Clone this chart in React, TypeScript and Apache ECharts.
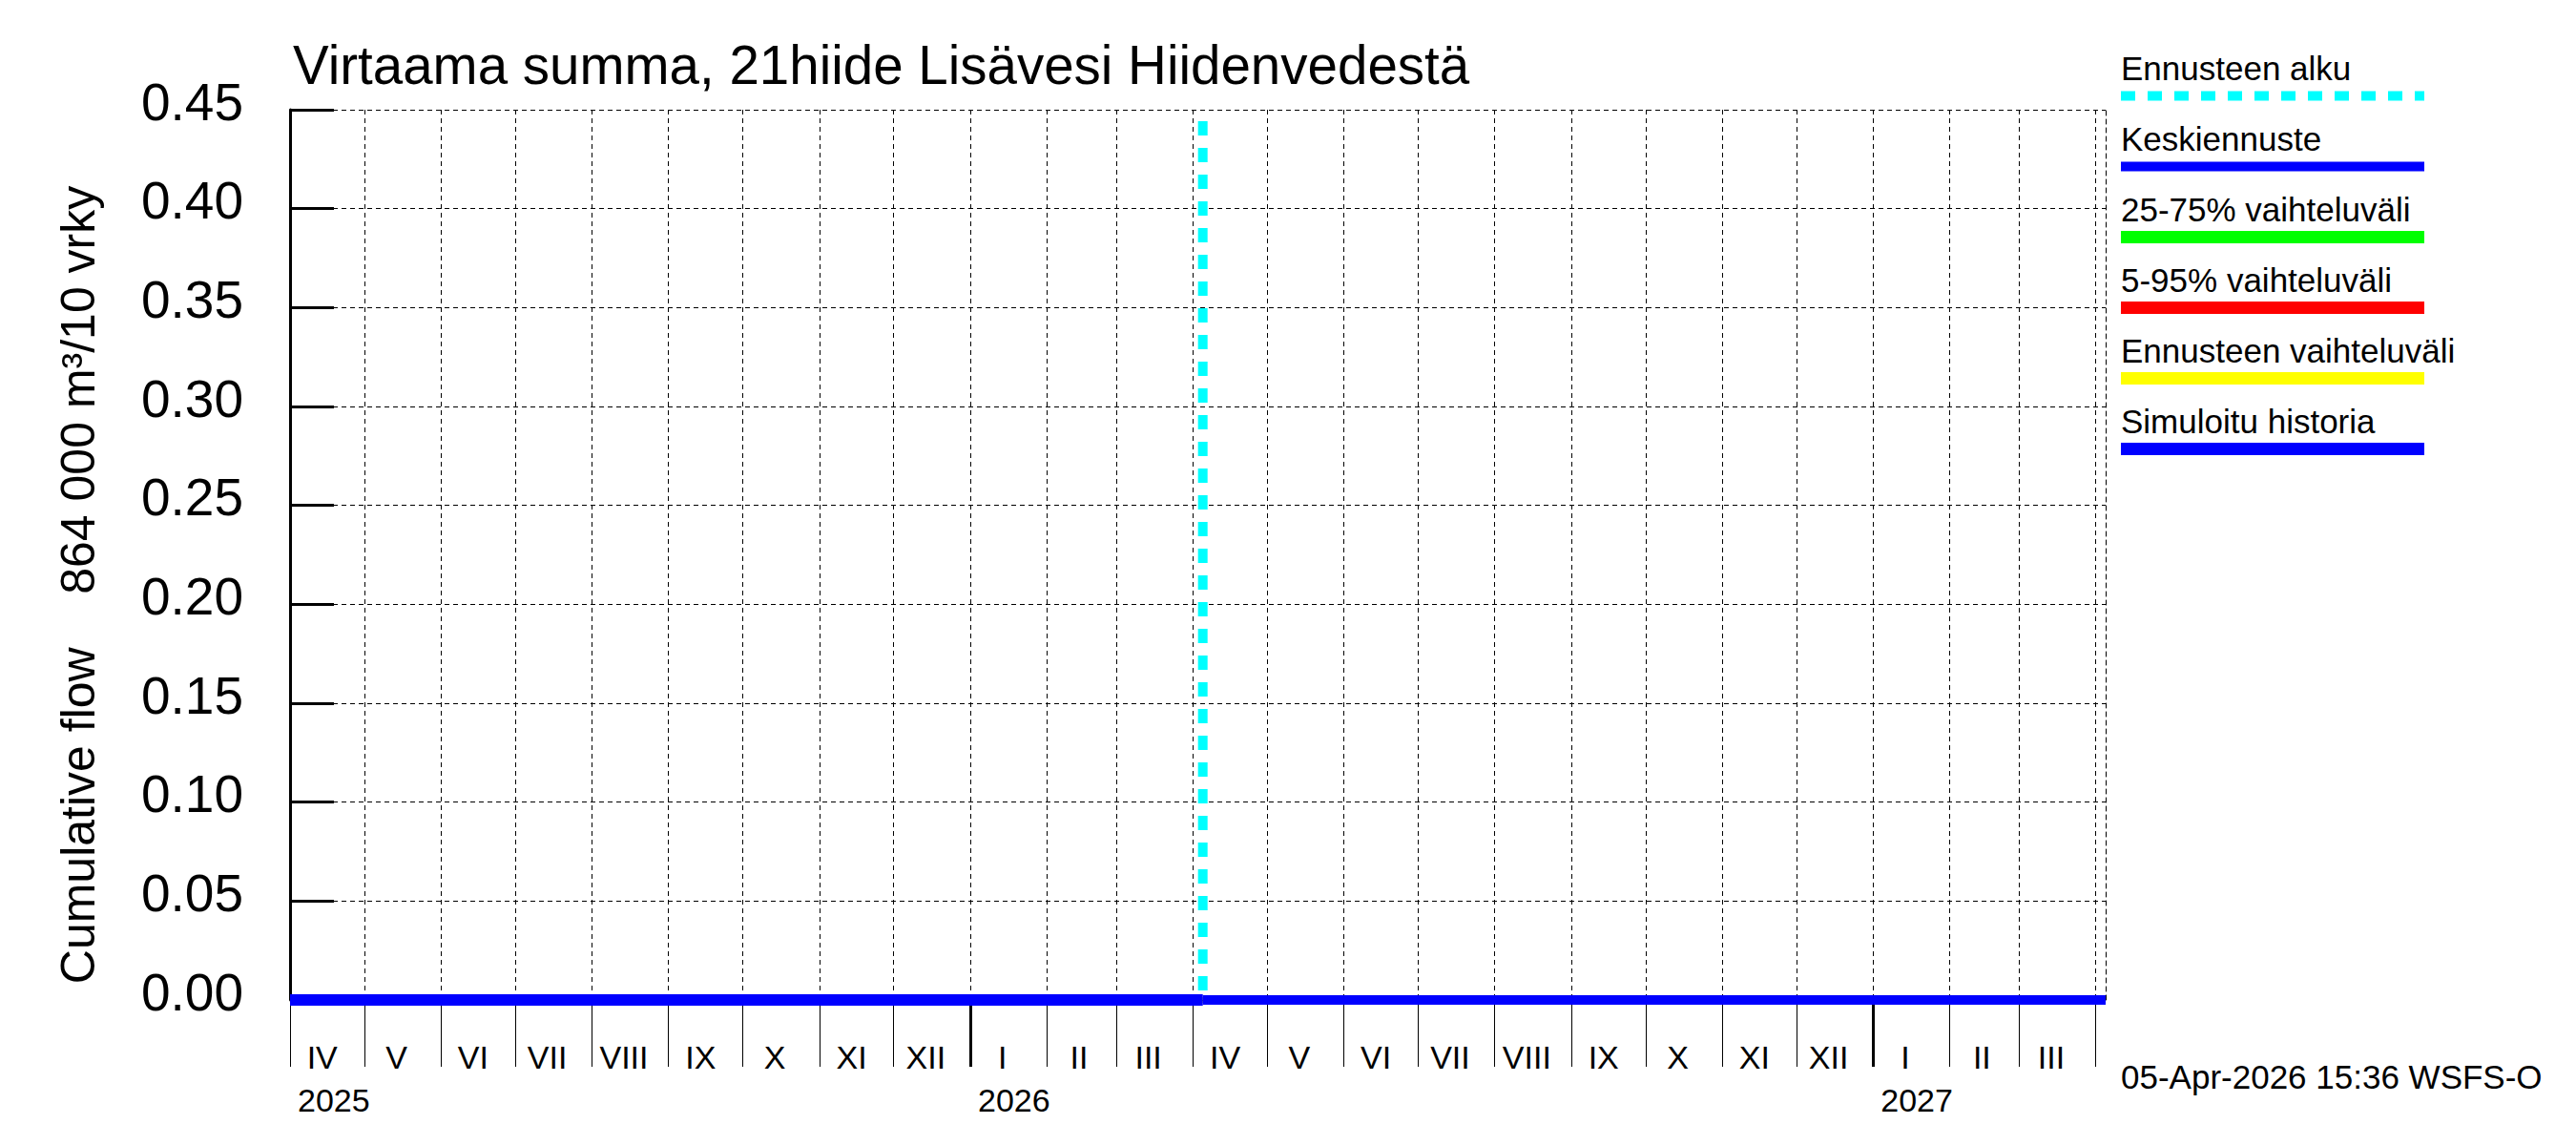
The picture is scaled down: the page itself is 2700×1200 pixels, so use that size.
import React, { useEffect, useRef } from 'react';
import * as echarts from 'echarts';

const FONT = '"Liberation Sans", Arial, Helvetica, sans-serif';

// time range of the plot
const axisStart = '2025-04-01';
const axisEnd = '2027-04-05';
const forecastStart = '2026-04-05';

// month boundaries (ticks + vertical grid lines)
const monthStarts = [
  '2025-04-01', '2025-05-01', '2025-06-01', '2025-07-01', '2025-08-01', '2025-09-01',
  '2025-10-01', '2025-11-01', '2025-12-01', '2026-01-01', '2026-02-01', '2026-03-01',
  '2026-04-01', '2026-05-01', '2026-06-01', '2026-07-01', '2026-08-01', '2026-09-01',
  '2026-10-01', '2026-11-01', '2026-12-01', '2027-01-01', '2027-02-01', '2027-03-01',
  '2027-04-01',
];
const monthNames = [
  'IV', 'V', 'VI', 'VII', 'VIII', 'IX', 'X', 'XI', 'XII', 'I', 'II', 'III',
  'IV', 'V', 'VI', 'VII', 'VIII', 'IX', 'X', 'XI', 'XII', 'I', 'II', 'III',
];
const yearStarts = ['2026-01-01', '2027-01-01'];
const yearLabelDates = ['2025-04-01', '2026-01-01', '2027-01-01'];
const yearLabels = ['2025', '2026', '2027'];

// y axis
const yMin = 0;
const yMax = 0.45;
const yStep = 0.05;

// series
const historyDates = ['2025-04-01', '2026-04-05'];
const historyValues = [0, 0];
const forecastDates = ['2026-04-05', '2027-04-05'];
const meanValues = [0, 0];
const p25to75Values = [0, 0];
const p5to95Values = [0, 0];
const rangeValues = [0, 0];

const legendNames = [
  'Ennusteen alku',
  'Keskiennuste',
  '25-75% vaihteluväli',
  '5-95% vaihteluväli',
  'Ennusteen vaihteluväli',
  'Simuloitu historia',
];

const titleText = 'Virtaama summa, 21hiide Lisävesi Hiidenvedestä';
const yNameText = 'Cumulative flow    864 000 m³/10 vrky';
const footerText = '05-Apr-2026 15:36 WSFS-O';

const COLORS = ['#00ffff', '#0000ff', '#00ff00', '#ff0000', '#ffff00', '#0000ff'];

const ts = (d: string) => {
  const [y, m, dd] = d.split('-').map(Number);
  return Date.UTC(y, m - 1, dd);
};

const pairs = (dates: string[], vals: number[]) => dates.map((d, i) => [ts(d), vals[i]]);

const App: React.FC = () => {
  const chartRef = useRef<HTMLDivElement | null>(null);

  useEffect(() => {
    document.body.style.margin = '0';
    if (!chartRef.current) return;
    const chart = echarts.init(chartRef.current, null, { renderer: 'svg' });

    const monthTicks = monthStarts.map(ts);
    // labels sit in the middle of each month
    const monthLabelPos = monthStarts.slice(0, -1).map((d) => ts(d) + 13 * 86400000);
    const yearLabelPos = yearLabelDates.map(ts);

    const legendGraphics: any[] = [];
    legendNames.forEach((name, i) => {
      const ty = 71 + i * 74;
      legendGraphics.push({
        type: 'text',
        x: 2223,
        y: ty,
        style: {
          text: name,
          fontSize: 35,
          fontFamily: FONT,
          fill: '#000',
          align: 'left',
          verticalAlign: 'middle',
        },
      });
      legendGraphics.push({
        type: 'line',
        shape: { x1: 2223, y1: ty + 29.5, x2: 2541, y2: ty + 29.5 },
        style: {
          stroke: COLORS[i],
          lineWidth: i < 2 ? 10 : 13,
          lineDash: i === 0 ? [15, 13] : null,
          lineCap: 'butt',
        },
      });
    });

    const fTime = ts(forecastStart);

    const option: any = {
      animation: false,
      backgroundColor: '#fff',
      textStyle: { fontFamily: FONT, color: '#000' },
      title: {
        text: titleText,
        left: 307,
        top: 40,
        padding: 0,
        textStyle: { fontSize: 56.5, fontWeight: 'normal', color: '#000', fontFamily: FONT },
      },
      grid: { left: 304, right: 493, top: 115, bottom: 152, containLabel: false },
      xAxis: [
        {
          type: 'value',
          position: 'bottom',
          min: ts(axisStart),
          max: ts(axisEnd),
          axisLine: { show: false },
          axisTick: {
            show: true,
            customValues: monthTicks,
            length: 70,
            lineStyle: { color: '#000', width: 1 },
          },
          splitLine: {
            show: true,
            lineStyle: { color: '#000', width: 1, type: [5, 4] },
          },
          axisLabel: {
            show: true,
            customValues: monthLabelPos,
            fontSize: 34,
            color: '#000',
            fontFamily: FONT,
            margin: 43,
            hideOverlap: false,
            formatter: (v: number) => {
              const i = monthLabelPos.indexOf(v);
              return i >= 0 ? monthNames[i] : '';
            },
          },
        },
        {
          type: 'value',
          position: 'bottom',
          min: ts(axisStart),
          max: ts(axisEnd),
          axisLine: { show: false },
          axisTick: {
            show: true,
            customValues: yearStarts.map(ts),
            length: 70,
            lineStyle: { color: '#000', width: 3 },
          },
          splitLine: { show: false },
          axisLabel: {
            show: true,
            customValues: yearLabelPos,
            fontSize: 34,
            color: '#000',
            fontFamily: FONT,
            margin: 88,
            align: 'left',
            padding: [0, 0, 0, 8],
            hideOverlap: false,
            formatter: (v: number) => {
              const i = yearLabelPos.indexOf(v);
              return i >= 0 ? yearLabels[i] : '';
            },
          },
        },
      ],
      yAxis: [
        {
          type: 'value',
          min: yMin,
          max: yMax,
          interval: yStep,
          axisLine: { show: true, lineStyle: { color: '#000', width: 3 } },
          axisTick: { show: true, inside: true, length: 46, lineStyle: { color: '#000', width: 3 } },
          splitLine: { show: true, lineStyle: { color: '#000', width: 1, type: [5, 4] } },
          axisLabel: {
            fontSize: 55,
            color: '#000',
            fontFamily: FONT,
            margin: 49,
            // labels sit a little above their ticks
            verticalAlign: 'bottom',
            lineHeight: 17,
            formatter: (v: number) => v.toFixed(2),
          },
        },
        {
          type: 'value',
          position: 'right',
          min: yMin,
          max: yMax,
          interval: yStep,
          axisLine: { show: true, lineStyle: { color: '#000', width: 1, type: [5, 4] } },
          axisTick: { show: false },
          axisLabel: { show: false },
          splitLine: { show: false },
        },
      ],
      series: [
        {
          name: legendNames[0],
          type: 'line',
          data: [[fTime, yMax], [fTime, yMin]],
          symbol: 'none',
          lineStyle: { color: COLORS[0], width: 10, type: [15, 13], dashOffset: 16, cap: 'butt' },
          z: 3,
        },
        {
          name: legendNames[4],
          type: 'line',
          data: pairs(forecastDates, rangeValues),
          symbol: 'none',
          lineStyle: { color: COLORS[4], width: 6 },
          z: 4,
        },
        {
          name: legendNames[3],
          type: 'line',
          data: pairs(forecastDates, p5to95Values),
          symbol: 'none',
          lineStyle: { color: COLORS[3], width: 6 },
          z: 4,
        },
        {
          name: legendNames[2],
          type: 'line',
          data: pairs(forecastDates, p25to75Values),
          symbol: 'none',
          lineStyle: { color: COLORS[2], width: 6 },
          z: 4,
        },
        {
          name: legendNames[1],
          type: 'line',
          data: pairs(forecastDates, meanValues),
          symbol: 'none',
          lineStyle: { color: COLORS[1], width: 10, cap: 'butt' },
          z: 5,
        },
        {
          name: legendNames[5],
          type: 'line',
          data: pairs(historyDates, historyValues),
          symbol: 'none',
          lineStyle: { color: COLORS[5], width: 12, cap: 'butt' },
          z: 5,
        },
      ],
      graphic: [
        {
          type: 'text',
          x: 82,
          y: 613,
          rotation: Math.PI / 2,
          style: {
            text: yNameText,
            fontSize: 50,
            fontFamily: FONT,
            fill: '#000',
            align: 'center',
            verticalAlign: 'middle',
          },
        },
        {
          type: 'text',
          x: 2223,
          y: 1128,
          style: {
            text: footerText,
            fontSize: 35,
            fontFamily: FONT,
            fill: '#000',
            align: 'left',
            verticalAlign: 'middle',
          },
        },
        ...legendGraphics,
      ],
    };

    chart.setOption(option);
    return () => {
      chart.dispose();
    };
  }, []);

  return <div ref={chartRef} style={{ width: '2700px', height: '1200px' }} />;
};

export default App;
